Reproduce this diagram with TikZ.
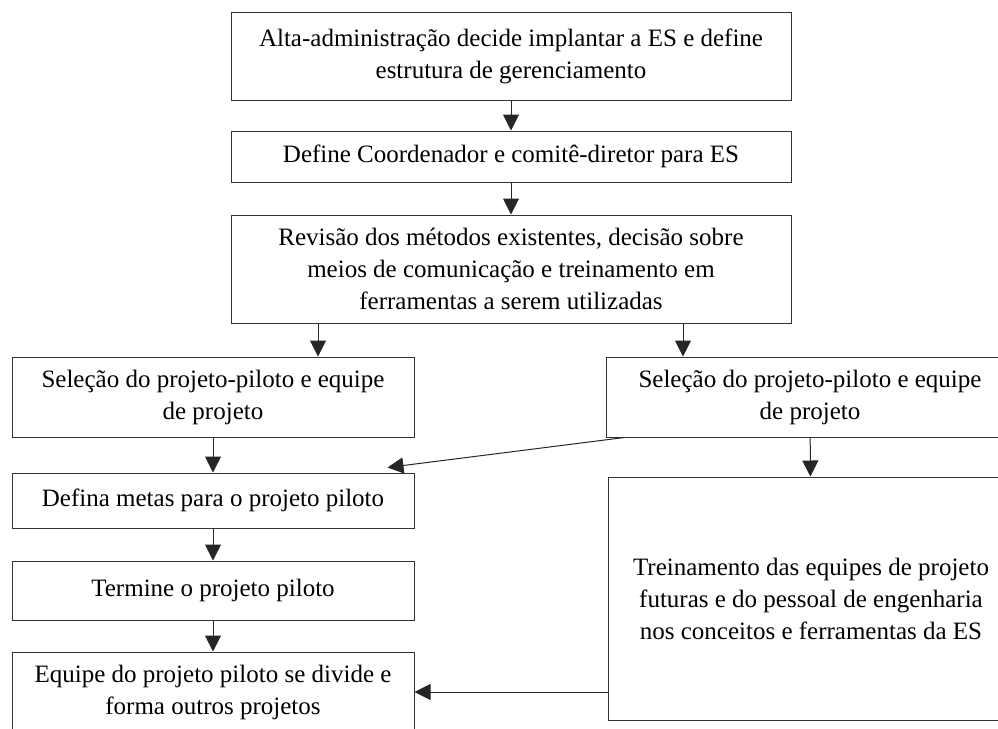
\documentclass[tikz,border=0pt]{standalone}
\usepackage{fontspec}
\setmainfont{Liberation Serif}
\usetikzlibrary{arrows.meta}

\tikzset{
  box/.style={draw=black!80, line width=1pt, fill=white, inner sep=0pt,
    align=center, font=\fontsize{25}{32}\selectfont},
  flow/.style={draw=black!85, line width=1pt, -{Triangle[length=16pt,width=16pt]}},
  plain/.style={draw=black!85, line width=1pt}
}

\begin{document}
\begin{tikzpicture}[x=1pt, y=-1pt]
  \useasboundingbox (0,0) rectangle (998,728);
  \clip (0,0) rectangle (998,728);

  % central chain
  \node[box, minimum width=560pt, minimum height=88pt] (alta) at (511,56)
    {Alta-administração decide implantar a ES e define\\estrutura de gerenciamento};
  \node[box, minimum width=560pt, minimum height=51pt] (coord) at (511,156.5)
    {Define Coordenador e comitê-diretor para ES};
  \node[box, minimum width=560pt, minimum height=108pt] (revisao) at (511,269)
    {Revisão dos métodos existentes, decisão sobre\\meios de comunicação e treinamento em\\ferramentas a serem utilizadas};

  % left column
  \node[box, minimum width=402pt, minimum height=80pt] (selA) at (213,397)
    {Seleção do projeto-piloto e equipe\\de projeto};
  \node[box, minimum width=402pt, minimum height=55pt] (metas) at (213,500.5)
    {Defina metas para o projeto piloto};
  \node[box, minimum width=402pt, minimum height=59pt] (termine) at (213,590.5)
    {Termine o projeto piloto};
  \node[box, minimum width=402pt, minimum height=80pt] (equipe) at (213,692)
    {Equipe do projeto piloto se divide e\\forma outros projetos};

  % right column
  \node[box, minimum width=408pt, minimum height=80pt] (selB) at (810,397)
    {Seleção do projeto-piloto e equipe\\de projeto};
  \node[box, minimum width=406pt, minimum height=243pt] (treino) at (811,598.5)
    {Treinamento das equipes de projeto\\futuras e do pessoal de engenharia\\nos conceitos e ferramentas da ES};

  % helper points for the slanted connector
  \coordinate (slantStart) at ([xshift=19pt]selB.south west);
  \coordinate (slantEnd) at ([xshift=-27pt,yshift=5pt]metas.north east);

  % connectors
  \draw[flow] (alta) -- (coord);
  \draw[flow] (coord) -- (revisao);
  \draw[flow] (revisao.south -| selA.north) ++(105,0) coordinate (rsA) -- (rsA |- selA.north);
  \draw[flow] ([xshift=172pt]revisao.south) coordinate (rsB) -- (rsB |- selB.north);
  \draw[flow] (selA) -- (metas);
  \draw[flow] (slantStart) -- (slantEnd);
  \draw[flow] (selB) -- (treino);
  \draw[flow] (metas) -- (termine);
  \draw[flow] (termine) -- (equipe);
  \draw[flow] (equipe.east -| treino.west) -- (equipe.east);
\end{tikzpicture}
\end{document}
